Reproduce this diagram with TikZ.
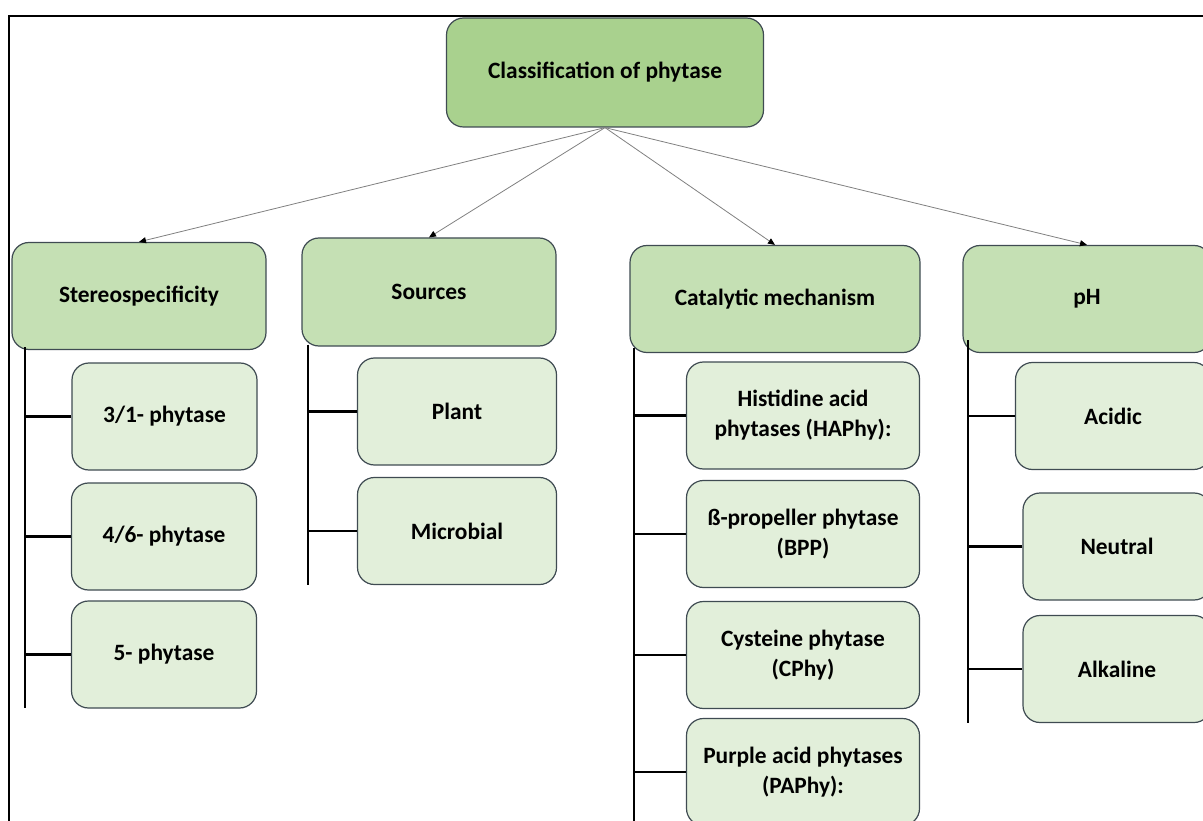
\documentclass[tikz,border=0pt]{standalone}
\usepackage{fontspec}
\setmainfont{Carlito}
\usetikzlibrary{arrows.meta,positioning}
\definecolor{rootgreen}{HTML}{A9D18E}
\definecolor{midgreen}{HTML}{C5E0B4}
\definecolor{palegreen}{HTML}{E2EFDA}
\definecolor{edgegray}{HTML}{3F4B52}

\begin{document}
\begin{tikzpicture}[
  x=1pt, y=-1pt,
  box/.style={rectangle, rounded corners=17pt, draw=edgegray, line width=1.2pt,
    align=center, inner sep=0pt, font=\fontsize{23.4}{30}\selectfont\bfseries},
  rootbox/.style={box, fill=rootgreen, minimum width=317pt, minimum height=109pt},
  groupbox/.style={box, fill=midgreen, minimum height=107pt},
  leafbox/.style={box, fill=palegreen, minimum height=107pt},
  link/.style={draw=gray, line width=0.8pt, -{Triangle[length=7pt,width=6pt,color=black]}},
  trunk/.style={draw, line width=2.8pt},
  twig/.style={draw, line width=2.8pt}
]
  \useasboundingbox (0,0) rectangle (1203,821);
  % frame
  \draw[line width=2pt] (9,821) -- (9,16) -- (1203,16);

  \node[rootbox] (root) at (605,72.5) {Classification of phytase};

  \node[groupbox, minimum width=254pt] (ster) at (139,296) {Stereospecificity};
  \node[groupbox, minimum width=254pt, minimum height=108pt] (src) at (429,292) {Sources};
  \node[groupbox, minimum width=290pt] (cat) at (775,299) {Catalytic mechanism};
  \node[groupbox, minimum width=248pt] (ph) at (1087,299) {pH};

  % stereospecificity
  \node[leafbox, minimum width=185pt] (s1) at (164.5,416.5) {3/1- phytase};
  \node[leafbox, minimum width=185pt] (s2) at (164,536.5) {4/6- phytase};
  \node[leafbox, minimum width=185pt] (s3) at (164,654.5) {5- phytase};
  % sources
  \node[leafbox, minimum width=199pt] (p1) at (457,411.5) {Plant};
  \node[leafbox, minimum width=199pt] (p2) at (457,531) {Microbial};
  % catalytic mechanism
  \node[leafbox, minimum width=233pt] (c1) at (803,415.5) {Histidine acid\\phytases (HAPhy):};
  \node[leafbox, minimum width=233pt] (c2) at (803,534) {ß-propeller phytase\\(BPP)};
  \node[leafbox, minimum width=233pt] (c3) at (803,655) {Cysteine phytase\\(CPhy)};
  \node[leafbox, minimum width=233pt] (c4) at (803,772) {Purple acid phytases\\(PAPhy):};
  % pH
  \node[leafbox, minimum width=195pt] (a1) at (1113,416) {Acidic};
  \node[leafbox, minimum width=188pt] (a2) at (1117,546.5) {Neutral};
  \node[leafbox, minimum width=188pt] (a3) at (1117,669) {Alkaline};

  \foreach \t in {ster,src,cat,ph}
    \draw[link] (root.south) -- (\t.north);

  \coordinate (sterEnd) at (25,708);
  \coordinate (srcEnd) at (308,585);
  \coordinate (catEnd) at (634,821);
  \coordinate (phEnd) at (968,723);

  \draw[trunk] ([yshift=3pt]sterEnd |- ster.south) -- (sterEnd);
  \draw[trunk] ([yshift=2pt]srcEnd |- src.south) -- (srcEnd);
  \draw[trunk] ([yshift=5pt]catEnd |- cat.south) -- (catEnd);
  \draw[trunk] ([yshift=13pt]phEnd |- ph.south) -- (phEnd);

  \foreach \n in {s1,s2,s3}
    \draw[twig] (\n.west) -- (\n.west -| sterEnd);
  \foreach \n in {p1,p2}
    \draw[twig] (\n.west) -- (\n.west -| srcEnd);
  \foreach \n in {c1,c2,c3,c4}
    \draw[twig] (\n.west) -- (\n.west -| catEnd);
  \foreach \n in {a1,a2,a3}
    \draw[twig] (\n.west) -- (\n.west -| phEnd);
\end{tikzpicture}
\end{document}
